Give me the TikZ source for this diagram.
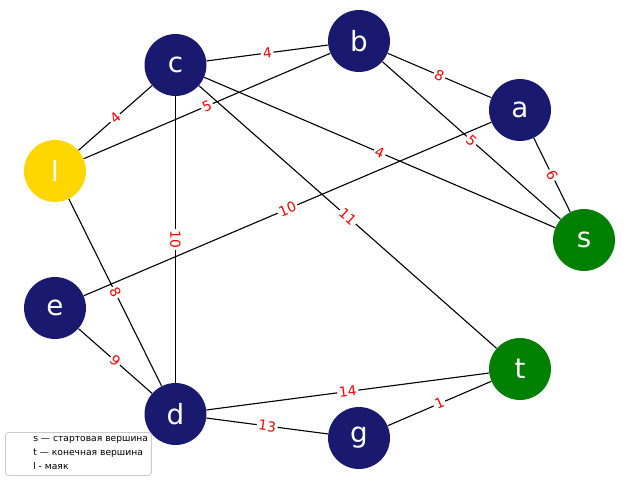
\documentclass[tikz,border=0pt]{standalone}
\usepackage{fontspec}
\setmainfont{DejaVu Sans}
\begin{document}
\begin{tikzpicture}[x=0.72pt,y=-0.72pt,
  vtx/.style={circle,minimum size=44.6pt,inner sep=0pt,text=white,font=\fontsize{20}{24}\selectfont},
  plain/.style={vtx,fill=navyv},
  beacon/.style={vtx,fill=goldv},
  term/.style={vtx,fill=greenv},
  wtbase/.style={midway,fill=white,inner sep=1.2pt,text=red,font=\fontsize{10}{12}\selectfont},
  wt/.style={wtbase,sloped},
  edge/.style={draw=black,line width=0.8pt},
  legtext/.style={anchor=west,inner sep=0pt,font=\fontsize{6.6}{8}\selectfont}]
\definecolor{navyv}{RGB}{25,25,112}
\definecolor{goldv}{RGB}{255,215,0}
\definecolor{greenv}{RGB}{0,128,0}
\useasboundingbox (0,0) rectangle (640,480);
% vertices
\node[plain]  (c) at (175.5,65)  {c};
\node[plain]  (b) at (359,41)  {b};
\node[plain]  (a) at (520,110) {a};
\node[beacon] (l) at (55,171)  {l};
\node[term]   (s) at (584,240) {s};
\node[plain]  (e) at (55,308)  {e};
\node[term]   (t) at (520,369) {t};
\node[plain]  (d) at (175.5,414) {d};
\node[plain]  (g) at (359,438) {g};
% weighted edges
\draw[edge] (c) -- node[wt]{4} (b);
\draw[edge] (b) -- node[wt]{8} (a);
\draw[edge] (l) -- node[wt]{4} (c);
\draw[edge] (l) -- node[wt]{5} (b);
\draw[edge] (c) -- node[wt]{4} (s);
\draw[edge] (b) -- node[wt]{5} (s);
\draw[edge] (a) -- node[wt]{6} (s);
\draw[edge] (e) -- node[wt]{10} (a);
\draw[edge] (c) -- node[wt]{11} (t);
\draw[edge] (c) -- node[wtbase,rotate=-90]{10} (d);
\draw[edge] (l) -- node[wt]{8} (d);
\draw[edge] (e) -- node[wt]{9} (d);
\draw[edge] (d) -- node[wt]{14} (t);
\draw[edge] (d) -- node[wt]{13} (g);
\draw[edge] (g) -- node[wt]{1} (t);
% legend
\node[draw=black!20,fill=white,fill opacity=0.8,text opacity=1,rounded corners=2pt,line width=0.6pt,
  minimum width=105.1pt,minimum height=31pt,anchor=north west,inner sep=0pt] (leg) at (5,432) {};
\node[legtext] (l1) at (33,440) {s — стартовая вершина};
\node[legtext] (l2) at (33,453) {t — конечная вершина};
\node[legtext] (l3) at (33,466) {l - маяк};
\end{tikzpicture}
\end{document}
